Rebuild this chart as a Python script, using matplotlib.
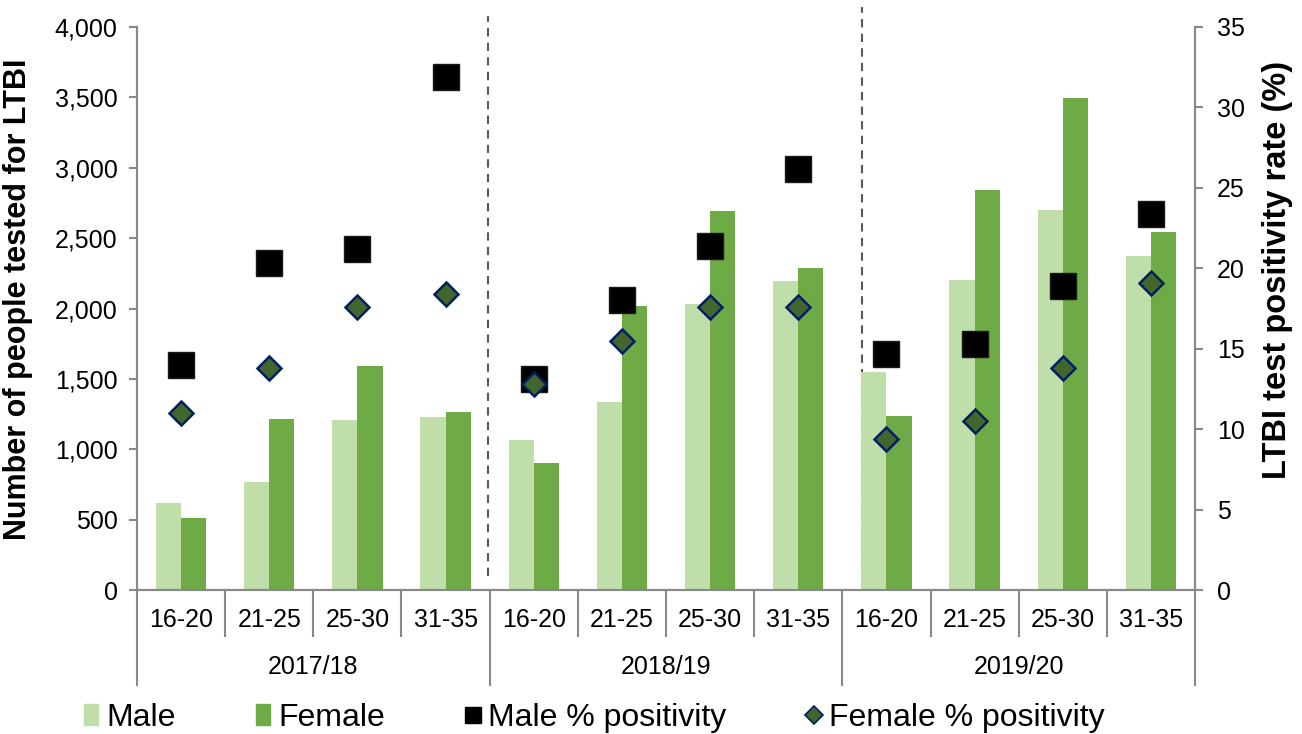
import matplotlib
matplotlib.use('Agg')
import matplotlib.pyplot as plt
import matplotlib.patches as mpatches
from matplotlib.lines import Line2D
from matplotlib.ticker import FuncFormatter
import matplotlib.transforms as mtransforms
import numpy as np

plt.rcParams['font.family'] = ['Liberation Sans', 'DejaVu Sans']

# data
years = ['2017/18', '2018/19', '2019/20']
age_groups = ['16-20', '21-25', '25-30', '31-35']
male_tested = [620, 765, 1210, 1232,
               1067, 1336, 2033, 2194,
               1549, 2200, 2703, 2374]
female_tested = [510, 1216, 1590, 1263,
                 900, 2020, 2694, 2285,
                 1235, 2844, 3497, 2544]
male_pos = [14.0, 20.3, 21.2, 31.9,
            13.1, 18.0, 21.4, 26.2,
            14.7, 15.3, 18.9, 23.4]
female_pos = [11.0, 13.8, 17.6, 18.4,
              12.8, 15.5, 17.6, 17.6,
              9.4, 10.5, 13.8, 19.1]

c_male = '#c0dea9'
c_female = '#6eaa45'
c_dia = '#43662f'
c_dia_edge = '#002060'
c_axis = '#898989'

fig = plt.figure(figsize=(13.02, 7.34), dpi=100)
ax = fig.add_axes([137 / 1302, (734 - 590) / 734, (1195 - 137) / 1302, 563 / 734])
ax2 = ax.twinx()

n = len(male_tested)
x = np.arange(n)
w = 0.285
ax.bar(x - w / 2, male_tested, w, color=c_male, zorder=2)
ax.bar(x + w / 2, female_tested, w, color=c_female, zorder=2)

ax2.plot(x, male_pos, 's', ms=18.5, color='black', mec='#1a1a1a', mew=1, zorder=3)
ax2.plot(x, female_pos, 'D', ms=12.5, color=c_dia, mec=c_dia_edge, mew=1.8, zorder=3)

ax.set_xlim(-0.5, n - 0.5)
ax.set_ylim(0, 4000)
ax2.set_ylim(0, 35)
ax.set_yticks(np.arange(0, 4001, 500))
ax2.set_yticks(np.arange(0, 36, 5))
ax.yaxis.set_major_formatter(FuncFormatter(lambda v, p: f'{int(v):,}'))
ax.set_xticks([])

for a in (ax, ax2):
    a.spines['top'].set_visible(False)
    for s in ('left', 'right', 'bottom'):
        a.spines[s].set_color(c_axis)
        a.spines[s].set_linewidth(1.5)
    a.tick_params(axis='y', colors=c_axis, labelcolor='black', labelsize=18,
                  length=6, width=1.5)
ax.tick_params(axis='y', pad=8)
ax2.tick_params(axis='y', pad=10)

ax.set_ylabel('Number of people tested for LTBI', fontsize=22, fontweight='bold')
ax.yaxis.set_label_coords(-0.098, 0.517)
ax2.set_ylabel('LTBI test positivity rate (%)', fontsize=23.5, fontweight='bold')
ax2.yaxis.set_label_coords(1.063, 0.568)

# category axis (two levels)
trans = mtransforms.blended_transform_factory(ax.transData, ax.transAxes)
for i in range(n):
    ax.text(i, -0.053, age_groups[i % 4], transform=trans, ha='center', va='center', fontsize=18)
for j, yr in enumerate(years):
    ax.text(j * 4 + 1.5, -0.136, yr, transform=trans, ha='center', va='center', fontsize=18)
for b in range(n + 1):
    bx = b - 0.5
    low = -0.169 if b % 4 == 0 else -0.082
    ax.plot([bx, bx], [0, low], transform=trans, color=c_axis, lw=1.5, clip_on=False)

# hand placed dashed separators
for dx, ytop, ybot in [(3.48, 1.02, 0.025), (7.72, 1.035, 0.04)]:
    ax.plot([dx, dx], [ybot, ytop], transform=trans, color='#595959', lw=1.5,
            ls=(0, (4, 3)), clip_on=False, zorder=1)

handles = [
    mpatches.Patch(color=c_male, label='Male'),
    mpatches.Patch(color=c_female, label='Female'),
    Line2D([0], [0], marker='s', ls='', color='black', ms=12, label='Male % positivity'),
    Line2D([0], [0], marker='D', ls='', color=c_dia, mec=c_dia_edge, mew=1.2, ms=9,
           label='Female % positivity'),
]
fig.legend(handles=handles, loc='center', bbox_to_anchor=(594 / 1302, 16 / 734), ncol=4,
           frameon=False, fontsize=23, handlelength=0.45, handleheight=0.65,
           handletextpad=0.25, columnspacing=2.52, borderaxespad=0)

fig.savefig('out.png', dpi=100)
